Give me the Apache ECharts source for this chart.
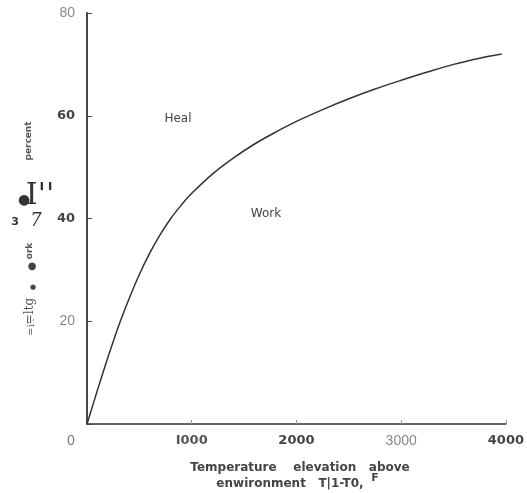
<!DOCTYPE html>
<html lang="en">
<head>
    <meta charset="UTF-8">
    <title>Work vs temperature elevation</title>
    <script src="https://cdn.jsdelivr.net/npm/echarts@6/dist/echarts.min.js"></script>
    <style>
        html, body { margin: 0; padding: 0; background: #fff; }
        #main { width: 527px; height: 493px; }
    </style>
</head>
<body>
<div id="main"></div>
<script type="text/javascript">
    // temperature elevation above environment (F) and work percent
    var tempRise = [0, 100, 200, 300, 400, 500, 600, 700, 800, 900, 1000, 1200, 1400, 1600, 1800, 2000, 2250, 2500, 2750, 3000, 3250, 3500, 3750, 3960];
    var workPct = [0, 6.6, 13, 19, 24.3, 29.1, 33.3, 36.9, 40, 42.6, 44.9, 48.7, 51.8, 54.5, 56.8, 58.9, 61.2, 63.3, 65.2, 66.9, 68.5, 70, 71.2, 72];

    // tick labels as printed (scan is uneven: some bold, some light)
    var xTicks = [0, 1000, 2000, 3000, 4000];
    var xTickLabels = ['0', 'I000', '2000', '3000', '4000'];
    var xTickStyle = ['z', 'm', 'b', 'l', 'b'];
    var yTicks = [20, 40, 60, 80];
    var yTickLabels = ['20', '40', '60', '80'];
    var yTickStyle = ['l', 'b', 'b', 'l'];

    var points = [];
    for (var i = 0; i < tempRise.length; i++) {
        points.push([tempRise[i], workPct[i]]);
    }

    var rich = {
        l: {color: '#888', fontFamily: 'Liberation Sans', fontSize: 14},
        z: {color: '#777', fontFamily: 'Liberation Sans', fontSize: 14, padding: [0, 32, 0, 0]},
        m: {color: '#555', fontFamily: 'DejaVu Sans', fontSize: 13, fontWeight: 'bold'},
        b: {color: '#444', fontFamily: 'DejaVu Sans', fontSize: 13, fontWeight: 'bold'}
    };

    var myChart = echarts.init(document.getElementById('main'));

    var gray = '#444';
    var txt = function (x, y, s, extra) {
        var st = {text: s, fill: gray, fontFamily: 'DejaVu Sans', fontSize: 12, fontWeight: 'bold',
            align: 'center', verticalAlign: 'middle'};
        for (var k in (extra || {})) st[k] = extra[k];
        return {type: 'text', x: x, y: y, style: st};
    };

    option = {
        animation: false,
        grid: {left: 87, right: 21, top: 13, bottom: 69},
        xAxis: {
            type: 'value',
            min: 0,
            max: 4000,
            interval: 1000,
            axisLine: {lineStyle: {color: '#333', width: 1.5}},
            axisTick: {inside: true, length: 4, lineStyle: {color: '#999'}},
            splitLine: {show: false},
            axisLabel: {
                margin: 10,
                formatter: function (v) {
                    var idx = xTicks.indexOf(v);
                    if (idx < 0) return '';
                    return '{' + xTickStyle[idx] + '|' + xTickLabels[idx] + '}';
                },
                rich: rich
            }
        },
        yAxis: {
            type: 'value',
            min: 0,
            max: 80,
            interval: 20,
            axisLine: {show: true, lineStyle: {color: '#333', width: 1.8}},
            axisTick: {show: true, inside: true, length: 5, lineStyle: {color: gray}},
            splitLine: {show: false},
            axisLabel: {
                margin: 12,
                formatter: function (v) {
                    var idx = yTicks.indexOf(v);
                    if (idx < 0) return '';
                    return '{' + yTickStyle[idx] + '|' + yTickLabels[idx] + '}';
                },
                rich: rich
            }
        },
        series: [{
            type: 'line',
            data: points,
            smooth: 0.35,
            showSymbol: false,
            lineStyle: {color: '#333', width: 1.5}
        }],
        graphic: [
            txt(178, 119, 'Heal', {fontWeight: 'normal', fontSize: 12, fill: '#444'}),
            txt(266, 214, 'Work', {fontWeight: 'normal', fontSize: 12, fill: '#444'}),
            txt(300, 468, 'Temperature    elevation   above', {fontSize: 12}),
            txt(290, 484, 'enwironment   T|1-T0,', {fontSize: 12}),
            txt(375, 478, 'F', {fontSize: 11}),
            // garbled axis title from the scan
            {type: 'text', x: 29, y: 141, rotation: Math.PI / 2,
                style: {text: 'percent', fill: '#555', fontFamily: 'DejaVu Sans', fontSize: 9, fontWeight: 'bold',
                    align: 'center', verticalAlign: 'middle'}},
            txt(24, 200, '\u25CF', {fontSize: 14, fill: '#333'}),
            txt(40, 196, "I''", {fontFamily: 'DejaVu Serif', fontSize: 30, fontWeight: 'normal', fill: '#333'}),
            txt(15, 222, '3', {fontSize: 11, fill: '#333'}),
            txt(36, 221, '7', {fontFamily: 'DejaVu Serif', fontSize: 18, fontStyle: 'italic', fontWeight: 'normal', fill: '#333'}),
            {type: 'text', x: 30, y: 251, rotation: Math.PI / 2,
                style: {text: 'ork', fill: '#555', fontFamily: 'DejaVu Sans', fontSize: 9, fontWeight: 'bold',
                    align: 'center', verticalAlign: 'middle'}},
            txt(32, 266, '\u25CF', {fontSize: 10, fill: '#444'}),
            txt(33, 287, '\u25CF', {fontSize: 7, fill: '#444'}),
            {type: 'text', x: 30, y: 311, rotation: Math.PI / 2,
                style: {text: '=ltg', fill: '#555', fontFamily: 'DejaVu Serif', fontSize: 12,
                    align: 'center', verticalAlign: 'middle'}},
            {type: 'text', x: 31, y: 327, rotation: Math.PI / 2,
                style: {text: "=i'.", fill: '#555', fontFamily: 'DejaVu Serif', fontSize: 10,
                    align: 'center', verticalAlign: 'middle'}}
        ]
    };

    myChart.setOption(option);
</script>
</body>
</html>
